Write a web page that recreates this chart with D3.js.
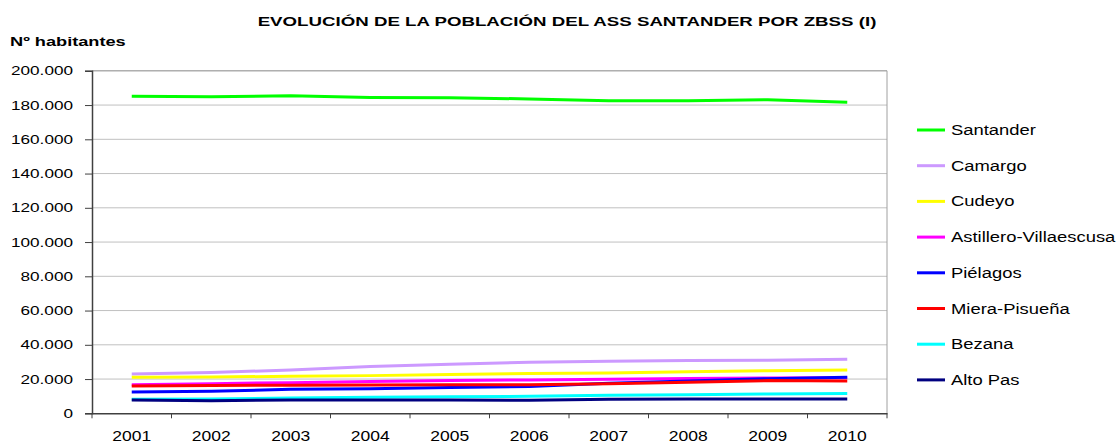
<!DOCTYPE html>
<html><head><meta charset="utf-8">
<script src="https://cdn.jsdelivr.net/npm/d3@7"></script>
<style>body{margin:0;background:#fff;font-family:"Liberation Sans",Arial,sans-serif;}</style>
</head><body><svg id="c" width="1119" height="446"></svg>
<script>
const years = ["2001","2002","2003","2004","2005","2006","2007","2008","2009","2010"];
const seriesNames = ["Santander","Camargo","Cudeyo","Astillero-Villaescusa","Piélagos","Miera-Pisueña","Bezana","Alto Pas"];
const santander = [185150,184800,185500,184400,184200,183600,182500,182500,183100,181700];
const camargo   = [23000,23800,25300,27300,28700,29800,30400,30800,31000,31600];
const cudeyo    = [21000,21200,21600,22000,22600,23200,23600,24200,24900,25300];
const astillero = [16700,17300,17900,18500,19100,19500,19900,20300,20600,20800];
const pielagos  = [12500,12900,14000,14400,15000,15600,17500,18900,20200,21000];
const miera     = [16000,16200,16400,16500,16700,16600,17300,18100,19100,18900];
const bezana    = [8200,8400,8900,9300,9700,9900,10500,10900,11300,11500];
const altoPas   = [7800,7400,7800,7800,7800,7600,8200,8400,8400,8400];
const seriesValues = [santander,camargo,cudeyo,astillero,pielagos,miera,bezana,altoPas];
const colors = ["#00ff00","#cc99ff","#ffff00","#ff00ff","#0000ff","#ff0000","#00ffff","#000080"];
const yTicks = [0,20000,40000,60000,80000,100000,120000,140000,160000,180000,200000];

const FONT = "Liberation Sans, Arial, sans-serif";
const svg = d3.select("#c");
const L = 92, R = 887, T = 70.8, B = 413.3;
const x = d3.scaleBand().domain(years).range([L,R]);
const y = d3.scaleLinear().domain([0,200000]).range([B,T]);
const fmt = v => d3.format(",")(v).replace(/,/g,".");

// gridlines
svg.append("g").selectAll("line").data(yTicks.filter(t=>t>0)).join("line")
  .attr("x1",L).attr("x2",R).attr("y1",d=>y(d)).attr("y2",d=>y(d))
  .attr("stroke","#c0c0c0").attr("stroke-width",1);
// frame right/top
svg.append("path").attr("d",`M${L},${T}H${R}V${B}`).attr("fill","none").attr("stroke","#a0a0a0").attr("stroke-width",1);

// y axis
const ya = svg.append("g").attr("transform",`translate(${L},0)`)
  .call(d3.axisLeft(y).tickValues(yTicks).tickFormat(fmt).tickSize(7).tickPadding(0));
ya.select(".domain").attr("stroke","#404040").attr("stroke-width",1.5);
ya.selectAll(".tick line").attr("stroke","#404040");
const syY = 1.32;
ya.selectAll(".tick text").attr("font-family",FONT).attr("font-size",13).attr("fill","#000")
  .attr("x",-19/syY).attr("transform",`scale(${syY},1)`);

// x axis
const xa = svg.append("g").attr("transform",`translate(0,${B})`)
  .call(d3.axisBottom(x).tickSize(0).tickPadding(0));
xa.select(".domain").attr("stroke","#404040").attr("stroke-width",1.5);
const sxX = 1.25;
xa.selectAll(".tick").each(function(){
  const t = d3.select(this).select("text");
  t.attr("font-family",FONT).attr("font-size",14).attr("fill","#000")
   .attr("dy",null).attr("y",null).attr("transform",`translate(0,28) scale(${sxX},1)`);
});
svg.append("g").selectAll("line").data(years.concat(["end"])).join("line")
  .attr("x1",(d,i)=>L+i*x.bandwidth()).attr("x2",(d,i)=>L+i*x.bandwidth())
  .attr("y1",B).attr("y2",B+5).attr("stroke","#404040").attr("stroke-width",1);

// lines
const line = d3.line().x((d,i)=>x(years[i])+x.bandwidth()/2).y(d=>y(d));
svg.append("g").selectAll("path").data(seriesValues).join("path")
  .attr("d",d=>line(d)).attr("fill","none")
  .attr("stroke",(d,i)=>colors[i]).attr("stroke-width",3).attr("stroke-linejoin","round");

// legend
const lg = svg.append("g").selectAll("g").data(seriesNames).join("g")
  .attr("transform",(d,i)=>`translate(917,${130+i*35.7})`);
lg.append("line").attr("x1",0).attr("x2",28).attr("stroke",(d,i)=>colors[i]).attr("stroke-width",3);
lg.append("text").attr("transform","translate(34,5) scale(1.27,1)").text(d=>d)
  .attr("font-family",FONT).attr("font-size",14.5).attr("fill","#000");

// titles
svg.append("text").attr("transform","translate(567,26) scale(1.385,1)").attr("text-anchor","middle")
  .attr("font-family",FONT).attr("font-weight","bold").attr("font-size",13.5)
  .text("EVOLUCIÓN DE LA POBLACIÓN DEL ASS SANTANDER POR ZBSS (I)");
svg.append("text").attr("transform","translate(10,46) scale(1.4,1)")
  .attr("font-family",FONT).attr("font-weight","bold").attr("font-size",13).text("Nº habitantes");
</script></body></html>
